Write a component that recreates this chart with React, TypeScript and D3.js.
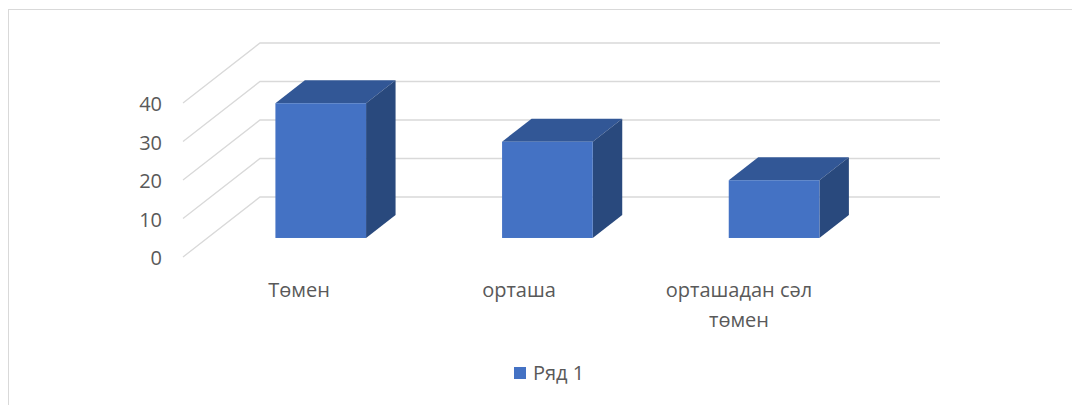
import React, { useEffect, useRef } from 'react';
import * as d3 from 'd3';

// Excel-style 3D column chart, one series over three categories.

const categories = ['Төмен', 'орташа', 'орташадан сәл төмен'];
const seriesName = 'Ряд 1';
const seriesValues = [35, 25, 15];
const yTicks = [0, 10, 20, 30, 40];

const W = 1072;
const H = 405;
const FRONT_LEFT = 183;
const FRONT_RIGHT = 863;
const FLOOR_Y = 257;
const DEPTH_DX = 77;
const DEPTH_DY = -60;
const BAR_T0 = 0.317;
const BAR_T1 = 0.7;
const FONT = "'Open Sans', sans-serif";
const TEXT_COLOR = '#595959';
const GRID_COLOR = '#d9d9d9';

const App = () => {
  const svgRef = useRef<SVGSVGElement>(null);

  useEffect(() => {
    const svg = d3.select(svgRef.current).attr('width', W).attr('height', H);
    svg.selectAll('*').remove();
    svg.append('rect').attr('width', W).attr('height', H).attr('fill', 'white');

    // chart area border (runs off the right and bottom of the picture)
    svg
      .append('rect')
      .attr('x', 8.5)
      .attr('y', 9.5)
      .attr('width', W + 20)
      .attr('height', H + 20)
      .attr('fill', 'none')
      .attr('stroke', GRID_COLOR);

    const y = d3.scaleLinear().domain([0, 10]).range([0, 38.5]);
    const x = d3
      .scaleBand()
      .domain(categories)
      .range([FRONT_LEFT, FRONT_RIGHT])
      .paddingInner(0.6)
      .paddingOuter(0.3);
    const labelX = d3.scaleBand().domain(categories).range([189, 849]);

    // point in 3D: category-space px, value, depth fraction
    const pt = (px: number, v: number, t: number): [number, number] => [
      px + DEPTH_DX * t,
      FLOOR_Y - y(v) + DEPTH_DY * t,
    ];

    // gridlines: diagonal side wall + back wall
    const grid = svg.append('g').attr('stroke', GRID_COLOR).attr('stroke-width', 1.3).attr('fill', 'none');
    yTicks.forEach((v) => {
      const a = pt(FRONT_LEFT, v, 0);
      const b = pt(FRONT_LEFT, v, 1);
      const c = pt(FRONT_RIGHT, v, 1);
      grid.append('path').attr('d', d3.line()([a, b, c]));
    });

    // tick labels
    svg
      .append('g')
      .selectAll('text')
      .data(yTicks)
      .enter()
      .append('text')
      .attr('x', 162)
      .attr('y', (v) => pt(FRONT_LEFT, v, 0)[1] + 8)
      .attr('text-anchor', 'end')
      .attr('font-family', FONT)
      .attr('font-size', '20px')
      .attr('fill', TEXT_COLOR)
      .text((v) => v);

    // bars
    const bars = svg.append('g');
    categories.forEach((c, i) => {
      const v = seriesValues[i];
      const x0 = x(c) as number;
      const x1 = x0 + x.bandwidth();
      const line = d3.line();
      // top face
      bars
        .append('path')
        .attr('fill', '#325796')
        .attr('d', line([pt(x0, v, BAR_T0), pt(x0, v, BAR_T1), pt(x1, v, BAR_T1), pt(x1, v, BAR_T0)]) + 'Z');
      // right side
      bars
        .append('path')
        .attr('fill', '#29497d')
        .attr('d', line([pt(x1, 0, BAR_T0), pt(x1, v, BAR_T0), pt(x1, v, BAR_T1), pt(x1, 0, BAR_T1)]) + 'Z');
      // front face
      const [fx, fy] = pt(x0, v, BAR_T0);
      const [, by] = pt(x0, 0, BAR_T0);
      bars
        .append('rect')
        .attr('x', fx)
        .attr('y', fy)
        .attr('width', x.bandwidth())
        .attr('height', by - fy)
        .attr('fill', '#4472c4');
    });

    // category labels, wrapped like Excel does
    const catG = svg.append('g').attr('font-family', FONT).attr('font-size', '20px').attr('fill', TEXT_COLOR);
    categories.forEach((c) => {
      const cx = (labelX(c) as number) + labelX.bandwidth() / 2;
      const text = catG.append('text').attr('text-anchor', 'middle').attr('x', cx).attr('y', 297);
      const words = c.split(' ');
      let lineWords: string[] = [];
      let tspan = text.append('tspan').attr('x', cx).attr('dy', 0);
      let n = 0;
      words.forEach((w) => {
        lineWords.push(w);
        tspan.text(lineWords.join(' '));
        const node = tspan.node() as SVGTSpanElement;
        if (node.getComputedTextLength() > 160 && lineWords.length > 1) {
          lineWords.pop();
          tspan.text(lineWords.join(' '));
          lineWords = [w];
          n += 1;
          tspan = text.append('tspan').attr('x', cx).attr('dy', 30).text(w);
        }
      });
    });

    // legend
    svg.append('rect').attr('x', 514).attr('y', 367).attr('width', 12).attr('height', 12).attr('fill', '#4472c4');
    svg
      .append('text')
      .attr('x', 533)
      .attr('y', 380)
      .attr('font-family', FONT)
      .attr('font-size', '20px')
      .attr('fill', TEXT_COLOR)
      .text(seriesName);
  }, []);

  return (
    <div style={{ position: 'absolute', left: 0, top: 0 }}>
      <svg ref={svgRef} style={{ display: 'block' }} />
    </div>
  );
};

export default App;
